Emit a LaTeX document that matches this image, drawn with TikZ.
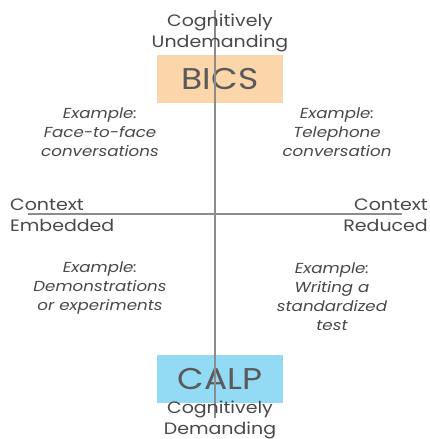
\documentclass[tikz,border=0pt]{standalone}
\usepackage{fontspec}
\setmainfont{Poppins}[FakeStretch=1.15]
\usetikzlibrary{positioning}
\definecolor{bicsorange}{HTML}{FAD6AA}
\definecolor{calpblue}{HTML}{93DBF4}
\definecolor{textgray}{HTML}{484848}
\definecolor{axisgray}{HTML}{8C8C8C}
\begin{document}
\begin{tikzpicture}[x=1pt,y=-1pt,
  heading/.style={text=textgray,align=center,inner sep=0pt,font=\fontsize{16.5}{21}\selectfont},
  example/.style={text=textgray,align=center,inner sep=0pt,font=\itshape\fontsize{14.5}{19}\selectfont},
  skillbox/.style={text=textgray!90,minimum width=126pt,minimum height=48pt,inner sep=0pt,font=\fontsize{30}{32}\selectfont},
  axis/.style={draw=axisgray,line width=1.3pt}]
\useasboundingbox (0,0) rectangle (430,439);

% coloured boxes
\node[skillbox,fill=bicsorange] (bics) at (220,79) {BICS};
\node[skillbox,fill=calpblue] (calp) at (220,379) {CALP};

% axes
\coordinate (top) at (215,10);
\coordinate (bottom) at (215,418);
\coordinate (left) at (28,214);
\coordinate (right) at (402,214);
\draw[axis] (top) -- (bottom);
\draw[axis] (left) -- (right);

% axis labels
\node[heading] (undem) at (220,33) {Cognitively\\Undemanding};
\node[heading] (dem) at (220,419.5) {Cognitively\\Demanding};
\node[heading,align=left,anchor=west] (embed) at (10,215) {Context\\Embedded};
\node[heading,align=right,anchor=east] (reduce) at (428,215) {Context\\Reduced};

% examples
\node[example] (facetoface) at (100,132) {Example:\\Face-to-face\\conversations};
\node[example] (phone) at (337,132) {Example:\\Telephone\\conversation};
\node[example] (demo) at (100,288) {Example:\\Demonstrations\\or experiments};
\node[example] (test) at (332,297) {Example:\\Writing a\\standardized\\test};
\end{tikzpicture}
\end{document}
